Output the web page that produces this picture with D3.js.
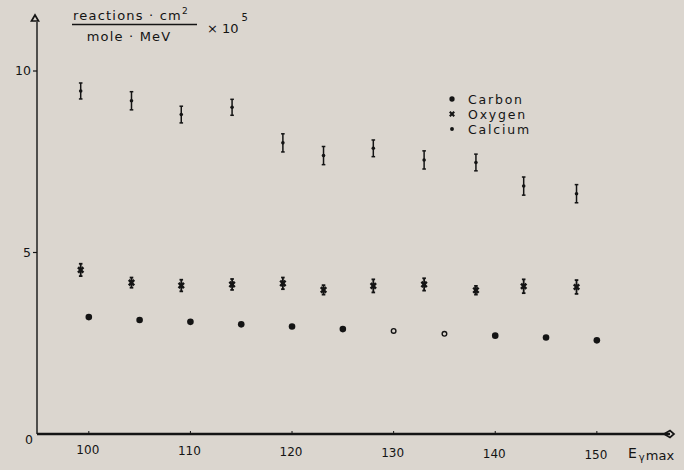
<!DOCTYPE html>
<html>
<head>
<meta charset="utf-8">
<script src="https://cdn.jsdelivr.net/npm/d3@7"></script>
<style>
    html, body { margin: 0; padding: 0; background: #dbd6cf; }
    svg { display: block; font-family: "DejaVu Sans", sans-serif; }
</style>
</head>
<body>
<div id="container"></div>
<script>
// reaction yields, x 10^5 reactions cm^2 / (mole MeV)
const carbonE = [100, 105, 110, 115, 120, 125, 130, 135, 140, 145, 150];
const carbonY = [3.22, 3.14, 3.09, 3.02, 2.96, 2.89, 2.84, 2.76, 2.71, 2.66, 2.58];
const carbonHollow = [130, 135];

const heavyE = [99.2, 104.2, 109.1, 114.1, 119.1, 123.1, 128, 133, 138.1, 142.8, 148];
const oxygenY = [4.52, 4.17, 4.09, 4.12, 4.15, 3.97, 4.08, 4.12, 3.96, 4.07, 4.05];
const oxygenErr = [0.17, 0.14, 0.16, 0.15, 0.16, 0.13, 0.18, 0.17, 0.12, 0.19, 0.19];
const calciumY = [9.45, 9.18, 8.80, 9.00, 8.02, 7.67, 7.87, 7.55, 7.48, 6.83, 6.62];
const calciumErr = [0.22, 0.25, 0.23, 0.22, 0.25, 0.25, 0.23, 0.25, 0.23, 0.25, 0.25];

const xTicks = [100, 110, 120, 130, 140, 150];
const yTicks = [5, 10];
const legendNames = ['Carbon', 'Oxygen', 'Calcium'];

const width = 684;
const height = 470;
const ink = '#141414';

const x = d3.scaleLinear().domain([94.9, 157.2]).range([37, 670]);
const y = d3.scaleLinear().domain([0, 10]).range([434, 71]);

const svg = d3.select('#container')
    .append('svg')
    .attr('width', width)
    .attr('height', height)
    .attr('viewBox', [0, 0, width, height]);

// axes
svg.append('line')
    .attr('x1', x.range()[0]).attr('x2', x.range()[1])
    .attr('y1', y(0)).attr('y2', y(0))
    .attr('stroke', ink).attr('stroke-width', 2.4);
svg.append('line')
    .attr('x1', x.range()[0]).attr('x2', x.range()[0])
    .attr('y1', y(0)).attr('y2', 22)
    .attr('stroke', ink).attr('stroke-width', 1.4);

// arrow heads
svg.append('path')
    .attr('d', 'M35,15 L31.5,21 L38.5,21 Z')
    .attr('fill', 'none').attr('stroke', ink).attr('stroke-width', 1.7);
svg.append('path')
    .attr('d', `M${x.range()[1] - 6},${y(0)} L${x.range()[1]},${y(0) - 3.5} L${x.range()[1] + 4},${y(0)} L${x.range()[1]},${y(0) + 3.5} Z`)
    .attr('fill', 'none').attr('stroke', ink).attr('stroke-width', 1.7);

// x ticks
const xg = svg.append('g');
xg.selectAll('line')
    .data(xTicks)
    .join('line')
    .attr('x1', d => x(d)).attr('x2', d => x(d))
    .attr('y1', y(0)).attr('y2', y(0) - 3)
    .attr('stroke', ink).attr('stroke-width', 1);
xg.selectAll('text')
    .data(xTicks)
    .join('text')
    .attr('x', d => x(d) - 1)
    .attr('y', (d, i) => y(0) + 20 + i * 1)
    .attr('text-anchor', 'middle')
    .attr('font-size', 12)
    .attr('fill', ink)
    .text(d => d);

// y ticks
const yg = svg.append('g');
yg.selectAll('line')
    .data(yTicks)
    .join('line')
    .attr('x1', x.range()[0] - 4).attr('x2', x.range()[0])
    .attr('y1', d => y(d)).attr('y2', d => y(d))
    .attr('stroke', ink).attr('stroke-width', 1.2);
yg.selectAll('text')
    .data(yTicks)
    .join('text')
    .attr('x', x.range()[0] - 6)
    .attr('y', d => y(d) + 4)
    .attr('text-anchor', 'end')
    .attr('font-size', 12.5)
    .attr('fill', ink)
    .text(d => d);
svg.append('text')
    .attr('x', 29).attr('y', 444)
    .attr('text-anchor', 'middle')
    .attr('font-size', 12.5)
    .attr('fill', ink)
    .text('0');

// y axis unit label
const unit = svg.append('g').attr('fill', ink);
unit.append('text')
    .attr('x', 131).attr('y', 20)
    .attr('text-anchor', 'middle')
    .attr('font-size', 13)
    .attr('letter-spacing', 1.2)
    .text('reactions · cm')
    .append('tspan')
    .attr('dy', -6).attr('font-size', 9)
    .text('2');
unit.append('line')
    .attr('x1', 72).attr('x2', 197)
    .attr('y1', 24.5).attr('y2', 24.5)
    .attr('stroke', ink).attr('stroke-width', 1.4);
unit.append('text')
    .attr('x', 129).attr('y', 41)
    .attr('text-anchor', 'middle')
    .attr('font-size', 13)
    .attr('letter-spacing', 1.2)
    .text('mole · MeV');
unit.append('text')
    .attr('x', 207).attr('y', 33)
    .attr('font-size', 13)
    .text('× 10')
    .append('tspan')
    .attr('dy', -12).attr('dx', 3).attr('font-size', 10)
    .text('5');

// x axis label
const xl = svg.append('text')
    .attr('x', 628).attr('y', 458)
    .attr('font-size', 14)
    .attr('fill', ink)
    .text('E');
xl.append('tspan').attr('dy', 3).attr('dx', 2).attr('font-size', 10).text('γ');
xl.append('tspan').attr('dy', -1).attr('dx', 1).attr('font-size', 13).text('max');

// carbon
svg.append('g')
    .selectAll('circle')
    .data(carbonE.map((e, i) => ({ e, v: carbonY[i] })))
    .join('circle')
    .attr('cx', d => x(d.e))
    .attr('cy', d => y(d.v))
    .attr('r', d => carbonHollow.includes(d.e) ? 2.3 : 3.3)
    .attr('fill', d => carbonHollow.includes(d.e) ? 'none' : ink)
    .attr('stroke', ink)
    .attr('stroke-width', d => carbonHollow.includes(d.e) ? 1.4 : 0);

// error bar helper
const errorBars = (vals, errs, capW, sw) => {
    const g = svg.append('g').attr('stroke', ink).attr('stroke-width', sw);
    const data = heavyE.map((e, i) => ({ e, v: vals[i], s: errs[i] }));
    g.selectAll('line.bar')
        .data(data)
        .join('line')
        .attr('class', 'bar')
        .attr('x1', d => x(d.e)).attr('x2', d => x(d.e))
        .attr('y1', d => y(d.v - d.s)).attr('y2', d => y(d.v + d.s));
    ['lo', 'hi'].forEach(k => {
        g.selectAll('line.' + k)
            .data(data)
            .join('line')
            .attr('class', k)
            .attr('x1', d => x(d.e) - capW).attr('x2', d => x(d.e) + capW)
            .attr('y1', d => y(k === 'lo' ? d.v - d.s : d.v + d.s))
            .attr('y2', d => y(k === 'lo' ? d.v - d.s : d.v + d.s));
    });
    return data;
};

// oxygen
const oxData = errorBars(oxygenY, oxygenErr, 1.8, 1.8);
const crossPath = d3.symbol().type(d3.symbolCross).size(32)();
svg.append('g')
    .selectAll('path')
    .data(oxData)
    .join('path')
    .attr('d', crossPath)
    .attr('transform', d => `translate(${x(d.e)},${y(d.v)}) rotate(45)`)
    .attr('fill', ink);

// calcium
const caData = errorBars(calciumY, calciumErr, 1.8, 1.5);
svg.append('g')
    .selectAll('circle')
    .data(caData)
    .join('circle')
    .attr('cx', d => x(d.e))
    .attr('cy', d => y(d.v))
    .attr('r', 1.8)
    .attr('fill', ink);

// legend
const legend = svg.append('g').attr('transform', 'translate(452,99)');
const row = legend.selectAll('g')
    .data(legendNames)
    .join('g')
    .attr('transform', (d, i) => `translate(0,${i * 15})`);
row.append('path')
    .attr('d', (d, i) => i === 1 ? d3.symbol().type(d3.symbolCross).size(22)() : d3.symbol().type(d3.symbolCircle).size(i === 0 ? 22 : 12)())
    .attr('transform', (d, i) => i === 1 ? 'rotate(45)' : null)
    .attr('fill', ink);
row.append('text')
    .attr('x', 16)
    .attr('y', 4.5)
    .attr('font-size', 12.5)
    .attr('letter-spacing', 1.8)
    .attr('fill', ink)
    .text(d => d);
</script>
</body>
</html>
